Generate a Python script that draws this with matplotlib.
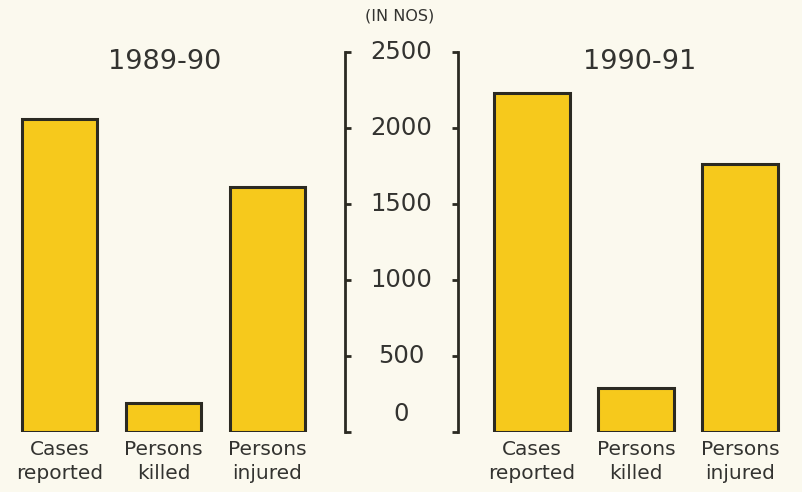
import matplotlib
matplotlib.use("Agg")
import matplotlib.pyplot as plt

categories = ["Cases\nreported", "Persons\nkilled", "Persons\ninjured"]
values_1989_90 = [2060, 190, 1610]
values_1990_91 = [2230, 290, 1760]
scale_ticks = [0, 500, 1000, 1500, 2000, 2500]
titles = ["1989-90", "1990-91"]
unit_label = "(IN NOS)"

W, H = 803, 492
BG = "#fbf9ee"
BAR = "#f6c91c"
EDGE = "#2b2a22"
TXT = "#333330"

fig = plt.figure(figsize=(W / 100, H / 100), dpi=100, facecolor=BG)

y0_px, y1_px = 432, 52
bottom = (H - y0_px) / H
height = (y0_px - y1_px) / H

def px_axes(x0, x1):
    return fig.add_axes([x0 / W, bottom, (x1 - x0) / W, height])

ymax = 2500

for (x0, x1), vals, title, tx in [((7.5, 319.5), values_1989_90, titles[0], 165),
                                  ((479.5, 792.5), values_1990_91, titles[1], 640)]:
    ax = px_axes(x0, x1)
    ax.set_facecolor("none")
    pos = list(range(len(categories)))
    ax.bar(pos, vals, width=0.73, color=BAR, edgecolor=EDGE, linewidth=2.2)
    ax.set_xlim(-0.5, len(categories) - 0.5)
    ax.set_ylim(0, ymax)
    ax.axis("off")
    for p, c in zip(pos, categories):
        ax.text(p, -0.022, c, transform=ax.get_xaxis_transform(), ha="center", va="top",
                fontsize=14.5, color=TXT, linespacing=1.3)
    fig.text(tx / W, 1 - 62 / H, title, ha="center", va="center", fontsize=19.5, color=TXT)

# central scale
sax = px_axes(345, 458)
sax.set_facecolor("none")
sax.set_ylim(0, ymax)
sax.set_xlim(0, 1)
for s in ["top", "bottom"]:
    sax.spines[s].set_visible(False)
for s in ["left", "right"]:
    sax.spines[s].set_linewidth(2)
    sax.spines[s].set_color(EDGE)
sax.set_xticks([])
sax.set_yticks(scale_ticks)
sax.tick_params(axis="y", which="both", direction="in", length=4, width=2, colors=EDGE,
                left=True, right=True, labelleft=False, labelright=False)
for t in scale_ticks:
    if t == 0:
        sax.text(0.5, t + 40, str(t), ha="center", va="bottom", fontsize=17.5, color=TXT)
    else:
        sax.text(0.5, t, str(t), ha="center", va="center", fontsize=17.5, color=TXT)

fig.text(400 / W, 1 - 16 / H, unit_label, ha="center", va="center", fontsize=11.5,
         color=TXT)

fig.savefig("out.png", dpi=100, facecolor=BG)
